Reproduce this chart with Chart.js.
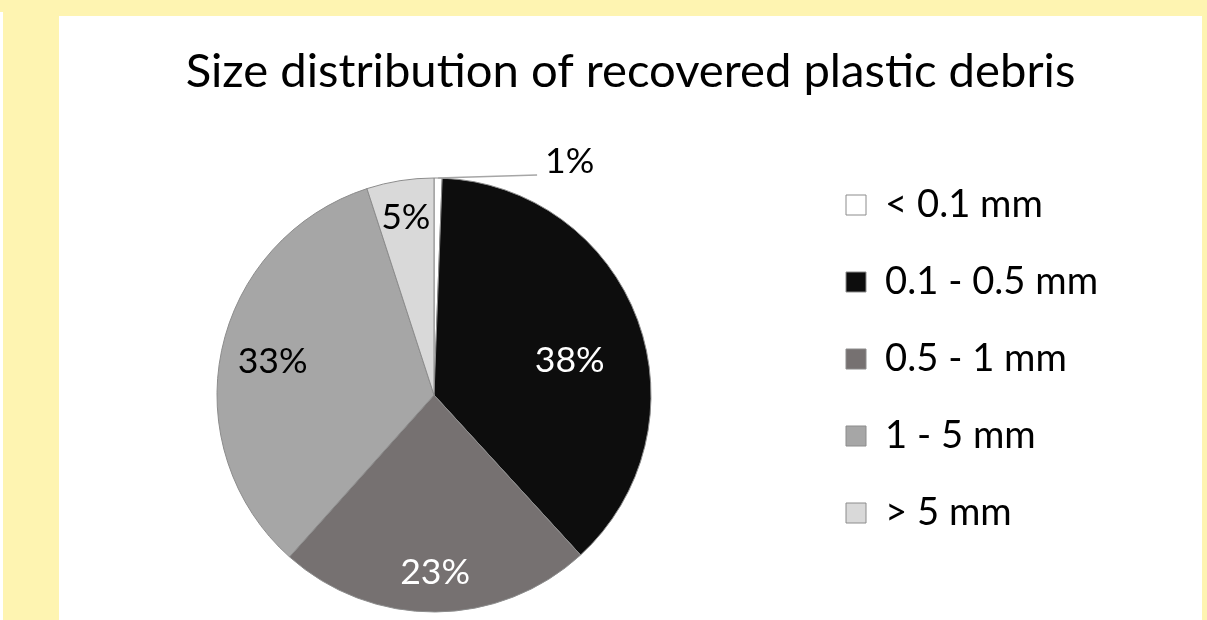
<!DOCTYPE html>
<html><head><meta charset="utf-8">
<script src="https://cdn.jsdelivr.net/npm/chart.js@4/dist/chart.umd.min.js"></script>
<style>
html,body{margin:0;padding:0;background:#fef4b1;width:1207px;height:620px;overflow:hidden;}
#strip{position:absolute;left:0;top:12px;width:3px;height:608px;background:#fff;}
#panel{position:absolute;left:59px;top:16px;width:1143px;height:604px;background:#fff;}
canvas{display:block;}
</style></head><body>
<div id="strip"></div>
<div id="panel"><canvas id="c" width="1143" height="604"></canvas></div>
<script>
const chartTitle = 'Size distribution of recovered plastic debris';
const categories = ['< 0.1 mm', '0.1 - 0.5 mm', '0.5 - 1 mm', '1 - 5 mm', '> 5 mm'];
const shares = [0.6, 37.6, 23.4, 33.4, 5.0];
const shareLabels = ['1%', '38%', '23%', '33%', '5%'];

// styles
const sliceColors = ['#ffffff', '#0d0d0d', '#767171', '#a6a6a6', '#d9d9d9'];
const labelColors = ['#000000', '#ffffff', '#ffffff', '#000000', '#000000'];
const labelRadius = [null, 0.645, 0.82, 0.76, 0.83];
const labelAngleShift = [0, 6, 0, 0, 0];
const leaderEnd = [0.475, -1.014];
const FONT = 'Lato, "Open Sans", sans-serif';

function fitFont(text, target) {
  const c = document.createElement('canvas').getContext('2d');
  c.font = '100px ' + FONT;
  return 100 * target / c.measureText(text).width;
}
const titleSize = fitFont(chartTitle, 890);
const legendSize = fitFont('0.1 - 0.5 mm', 213);
const labelSize = fitFont('38%', 70);

// geometry (canvas px)
const CX = 375, CY = 379, R = 217, BW = 1;
const legendStep = 77, legendFirst = 189, legendBoxLeft = 787, boxW = 20;
const P = legendStep - legendSize;
const legendLeft = legendBoxLeft - P;
const padLeft = 2 * CX - legendLeft;
const mctx = document.createElement('canvas').getContext('2d');
mctx.font = legendSize + 'px ' + FONT;
const maxText = Math.max(...categories.map(t => mctx.measureText(t).width));
const legendWidth = P + boxW + legendSize / 2 + maxText + 10;
const padRight = 1143 - legendLeft - legendWidth;
const areaTop = CY - R - BW / 2;
const padBottom = 604 - (CY + R + BW / 2);
const titleCenter = 56;
const titleTopPad = titleCenter - 0.6 * titleSize;
const titleBottomPad = areaTop - titleTopPad - 1.2 * titleSize;
const legendTitleH = legendFirst - P - legendSize / 2;

// center the title over the whole panel, not only over the padded layout box
const titleSpan = {
  id: 'titleSpan',
  afterLayout(chart) {
    const t = chart.titleBlock;
    if (t) { t.left = 0; t.right = chart.width; t.width = chart.width; }
  }
};

const sliceLabels = {
  id: 'sliceLabels',
  afterDatasetsDraw(chart) {
    const ctx = chart.ctx;
    const meta = chart.getDatasetMeta(0);
    ctx.save();
    ctx.font = labelSize + 'px ' + FONT;
    ctx.textBaseline = 'middle';
    meta.data.forEach((arc, i) => {
      const {x, y, startAngle, endAngle, outerRadius} =
        arc.getProps(['x', 'y', 'startAngle', 'endAngle', 'outerRadius'], true);
      const mid = (startAngle + endAngle) / 2 + labelAngleShift[i] * Math.PI / 180;
      if (labelRadius[i] !== null) {
        const r = outerRadius * labelRadius[i];
        ctx.fillStyle = labelColors[i];
        ctx.textAlign = 'center';
        ctx.fillText(shareLabels[i], x + r * Math.cos(mid), y + r * Math.sin(mid));
      } else {
        const sx = x + outerRadius * Math.cos(mid), sy = y + outerRadius * Math.sin(mid);
        const ex = x + outerRadius * leaderEnd[0], ey = y + outerRadius * leaderEnd[1];
        ctx.strokeStyle = '#a6a6a6';
        ctx.lineWidth = 1.5;
        ctx.beginPath(); ctx.moveTo(sx, sy); ctx.lineTo(ex, ey); ctx.stroke();
        ctx.fillStyle = labelColors[i];
        ctx.textAlign = 'left';
        ctx.fillText(shareLabels[i], ex + 8, ey - 13);
      }
    });
    ctx.restore();
  }
};

new Chart(document.getElementById('c'), {
  type: 'pie',
  data: {
    labels: categories,
    datasets: [{
      data: shares,
      backgroundColor: sliceColors,
      borderColor: '#8c8c8c',
      borderWidth: BW
    }]
  },
  options: {
    responsive: false,
    animation: false,
    layout: {padding: {left: padLeft, right: padRight, top: 0, bottom: padBottom}},
    plugins: {
      title: {
        display: true,
        text: chartTitle,
        color: '#000',
        font: {family: FONT, size: titleSize, weight: 'normal', lineHeight: 1.2},
        padding: {top: titleTopPad, bottom: titleBottomPad}
      },
      legend: {
        position: 'right',
        align: 'start',
        title: {display: true, text: '', font: {size: 10, lineHeight: 1}, padding: {top: legendTitleH - 10, bottom: 0}},
        labels: {
          color: '#000',
          font: {family: FONT, size: legendSize},
          boxWidth: boxW,
          boxHeight: boxW,
          padding: P
        }
      },
      tooltip: {enabled: false}
    }
  },
  plugins: [titleSpan, sliceLabels]
});
</script>
</body></html>
